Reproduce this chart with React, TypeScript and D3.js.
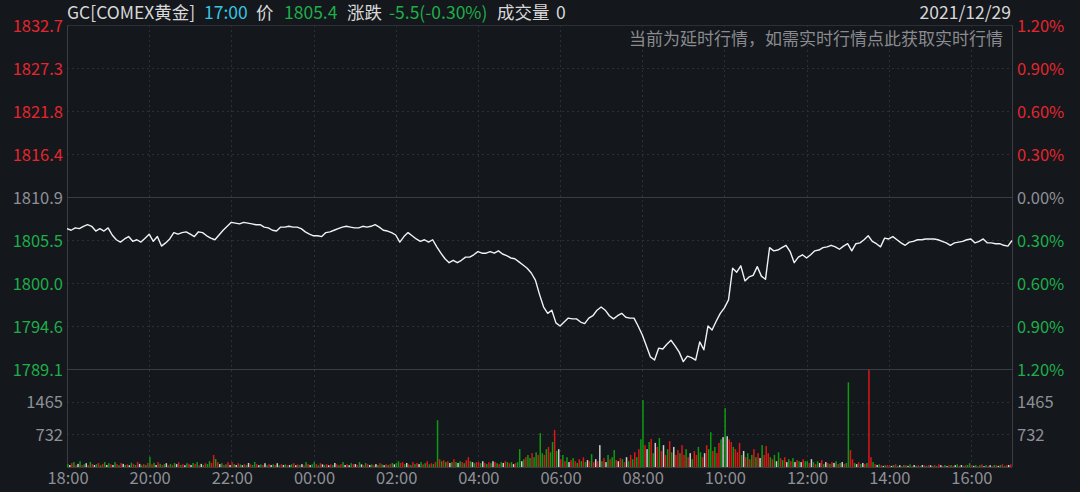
import React from 'react';
import * as d3 from 'd3';

// ---------- data ----------
const prevClose = 1810.9;
const pctTicks = [1.2, 0.9, 0.6, 0.3, 0, -0.3, -0.6, -0.9, -1.2];
const priceLabels = ['1832.7', '1827.3', '1821.8', '1816.4', '1810.9', '1805.5', '1800.0', '1794.6', '1789.1'];
const pctLabels = ['1.20%', '0.90%', '0.60%', '0.30%', '0.00%', '0.30%', '0.60%', '0.90%', '1.20%'];
const timeLabels = ['18:00', '20:00', '22:00', '00:00', '02:00', '04:00', '06:00', '08:00', '10:00', '12:00', '14:00', '16:00'];
const timeTickMinutes = [0, 120, 240, 360, 480, 600, 720, 840, 960, 1080, 1200, 1320];
const sessionMinutes = 1380;
const volTicks = [1465, 732];
const volMax = 2197;

const headerTexts = ['GC[COMEX黄金]', '17:00', '价', '1805.4', '涨跌', '-5.5(-0.30%)', '成交量', '0'];
const headerKinds = ['n', 'c', 'n', 'g', 'n', 'g', 'n', 'n'];
const dateText = '2021/12/29';
const noticeText = '当前为延时行情，如需实时行情点此获取实时行情';

// price every 6 minutes from 18:00
const priceStep = 6;
const prices = [
  1806.9, 1806.7, 1807.0, 1806.9, 1807.2, 1807.4, 1807.2, 1806.6, 1806.9, 1806.6,
  1807.0, 1806.1, 1805.5, 1805.2, 1805.6, 1805.9, 1805.3, 1805.5, 1805.2, 1805.7,
  1806.2, 1805.3, 1805.9, 1804.7, 1805.1, 1805.6, 1806.4, 1806.2, 1806.4, 1806.5,
  1806.2, 1805.9, 1806.5, 1806.4, 1806.0, 1805.7, 1805.5, 1806.1, 1806.7, 1807.2,
  1807.7, 1807.6, 1807.5, 1807.7, 1807.6, 1807.5, 1807.4, 1807.4, 1807.1, 1807.0,
  1806.7, 1806.6, 1807.1, 1807.1, 1807.2, 1807.1, 1807.1, 1806.9, 1806.5, 1806.2,
  1806.0, 1806.0, 1805.9, 1806.4, 1806.5, 1806.7, 1806.9, 1807.1, 1807.2, 1807.1,
  1807.0, 1807.0, 1807.2, 1807.1, 1807.2, 1807.4, 1807.1, 1806.7, 1806.6, 1806.4,
  1806.1, 1805.2, 1805.9, 1806.4, 1806.0, 1805.6, 1805.3, 1805.5, 1805.2, 1805.5,
  1804.6, 1803.8, 1803.1, 1802.6, 1802.9, 1802.6, 1802.9, 1803.3, 1803.3, 1803.6,
  1804.0, 1803.8, 1803.8, 1804.0, 1803.8, 1804.1, 1803.7, 1803.5, 1803.2, 1803.1,
  1802.7, 1802.3, 1801.9, 1801.3, 1800.4, 1798.6, 1797.0, 1796.2, 1796.6, 1795.0,
  1794.6, 1795.1, 1795.6, 1795.5, 1795.5, 1795.1, 1794.9, 1795.6, 1795.9, 1796.6,
  1797.0, 1796.6, 1795.9, 1795.5, 1795.9, 1796.2, 1795.7, 1795.6, 1795.6, 1794.6,
  1793.5, 1792.1, 1790.7, 1790.3, 1791.8, 1791.7, 1792.3, 1792.8, 1792.1, 1791.3,
  1790.1, 1790.8, 1790.6, 1790.3, 1792.6, 1791.6, 1794.6, 1794.1, 1795.2, 1796.2,
  1796.9, 1797.9, 1801.9, 1801.4, 1802.2, 1800.3, 1800.8, 1801.0, 1802.1, 1800.9,
  1800.5, 1804.5, 1804.1, 1804.2, 1804.5, 1804.8, 1804.0, 1802.6, 1803.3, 1803.6,
  1803.2, 1803.6, 1804.1, 1804.2, 1804.5, 1804.6, 1804.8, 1804.6, 1804.3, 1804.7,
  1805.0, 1804.1, 1805.0, 1805.1, 1805.5, 1806.0, 1805.3, 1805.0, 1804.6, 1805.7,
  1805.6, 1805.9, 1805.5, 1805.1, 1804.8, 1805.2, 1805.3, 1805.5, 1805.5, 1805.6,
  1805.6, 1805.6, 1805.5, 1805.3, 1805.1, 1804.8, 1805.1, 1805.2, 1805.3, 1805.5,
  1805.6, 1805.1, 1805.3, 1805.6, 1805.1, 1805.1, 1805.0, 1805.0, 1804.8, 1804.7, 1805.4,
];

// volume every 3 minutes from 18:00
const volStep = 3;
const volumes = [
  65, 45, 90, 110, 40, 70, 130, 45, 60, 85, 40, 115, 70, 45, 65, 90, 40, 70, 110, 45,
  85, 60, 45, 110, 65, 40, 90, 70, 45, 60, 40, 95, 65, 45, 115, 70, 40, 65, 45, 90,
  230, 60, 95, 45, 110, 70, 45, 65, 85, 40, 70, 45, 90, 65, 105, 45, 65, 40, 85, 70,
  45, 90, 65, 110, 40, 70, 45, 85, 65, 130, 90, 270, 180, 110, 65, 85, 45, 60, 110, 45,
  110, 65, 45, 85, 60, 40, 65, 45, 90, 60, 45, 115, 65, 40, 60, 45, 85, 40, 65, 45,
  60, 45, 85, 40, 65, 45, 60, 40, 45, 65, 85, 40, 60, 45, 65, 40, 110, 65, 45, 60,
  110, 65, 40, 85, 60, 45, 65, 40, 60, 45, 90, 60, 40, 65, 110, 45, 65, 40, 85, 65,
  65, 45, 110, 60, 40, 90, 65, 45, 60, 40, 65, 45, 85, 60, 40, 65, 45, 65, 90, 60,
  90, 130, 90, 110, 65, 90, 60, 45, 110, 65, 90, 65, 110, 60, 85, 130, 60, 85, 65, 110,
  1050, 175, 130, 150, 110, 130, 90, 110, 175, 110, 90, 130, 110, 85, 150, 220, 130, 110, 85, 110,
  110, 85, 130, 90, 65, 110, 85, 130, 110, 85, 65, 110, 90, 130, 110, 85, 110, 65, 90, 110,
  400, 130, 175, 220, 270, 200, 310, 220, 330, 270, 760, 310, 270, 400, 450, 330, 560, 830, 360, 400,
  175, 270, 130, 220, 110, 155, 200, 130, 90, 175, 130, 220, 110, 155, 130, 290, 110, 175, 130, 490,
  130, 200, 110, 270, 175, 220, 380, 155, 130, 200, 175, 110, 220, 130, 270, 175, 330, 220, 400, 620,
  1500, 490, 400, 560, 630, 310, 540, 450, 650, 360, 490, 270, 400, 580, 330, 450, 270, 380, 310, 490,
  270, 400, 220, 310, 175, 360, 270, 450, 330, 220, 310, 490, 400, 780, 360, 450, 310, 540, 620, 670,
  1320, 690, 620, 560, 450, 400, 330, 540, 270, 360, 220, 310, 175, 270, 400, 220, 310, 200, 490, 270,
  470, 310, 220, 175, 270, 130, 330, 200, 155, 220, 110, 175, 130, 200, 110, 155, 130, 110, 175, 130,
  130, 90, 175, 110, 65, 130, 90, 155, 65, 110, 90, 65, 110, 90, 130, 65, 90, 110, 65, 90,
  1900, 380, 175, 90, 65, 110, 65, 90, 65, 90, 2180, 220, 110, 65, 45, 60, 40, 25, 40, 45,
  40, 25, 45, 60, 25, 40, 20, 45, 40, 25, 60, 20, 45, 25, 40, 20, 45, 40, 25, 40,
  40, 25, 45, 20, 60, 40, 25, 45, 20, 40, 45, 25, 40, 60, 25, 45, 20, 40, 45, 85,
  40, 25, 45, 20, 40, 60, 20, 45, 25, 40, 20, 45, 40, 25, 45, 60, 20, 40, 45, 60,
];
// r = up, g = down, w = flat
const volDirections = [
  'gwrgrwgrgwrgrwgrgrgw', 'grwgrgrwgrwgrgrwgrgr', 'grgwrgrgwrgrgwrgrwgr', 'wgrgrwgrggrrgrwgrgrw',
  'rgwrgwrgwrggrwgrwgrw', 'grwgrwgrwgrwrgwrgrwg', 'grgrwgrwrgwrgrgwrwgr', 'wrgwrgrwgrwgrgwrgrgw',
  'ggrrgwrgrgrwgrgrgrgr', 'grgrgrwgrgwgrgrrgwgr', 'rgwrgrgwrgrgwrgrgwrg', 'gwgrggrggrggrgrggrgw',
  'rgrgwrgrgrgrgwrgrwrw', 'grwgrggrwrgrwgrgrgrg', 'grwgrgwrgrwrgrgwrrgr', 'rgrwgrrggrwrggrgrrgw',
  'gwrrgrrrgwrgrgrgrwgr', 'rrgrgwgrgrwgrgwrgwrg', 'grwgrgwrgwrgrwgrgwrg', 'grrgwrgwrgrrgrwgrwgr',
  'rwgrgwrgrwgrwgrgwrgr', 'wgrgrwrgwrgrwgrwgrgg', 'rwgrgrwgrwrgrwgrgrwr',
].join('');

// ---------- layout ----------
const W = 1080;
const H = 492;
const L = 67;
const R = 1012;
const priceTop = 25;
const priceBottom = 369;
const volBottom = 467;
const headerX = [67, 204, 256, 284, 347, 389, 497, 556];

const FONT = "'Noto Sans CJK SC','Noto Sans',sans-serif";
const C = {
  bg: '#14171c',
  grid: '#2c2f36',
  axis: '#3a3d44',
  gray: '#8e9096',
  red: '#e4262d',
  green: '#1eae4a',
  white: '#d8d8d8',
  cyan: '#35c6e3',
  notice: '#8a8b8f',
  line: '#f2f2f2',
  volR: '#dd1616',
  volG: '#0e9a12',
  volW: '#cfcfcf',
};

export default function App() {
  const x = d3.scaleLinear().domain([0, sessionMinutes]).range([L, R]);
  const y = d3
    .scaleLinear()
    .domain([prevClose * (1 - 0.012), prevClose * (1 + 0.012)])
    .range([priceBottom, priceTop]);
  const yv = d3.scaleLinear().domain([0, volMax]).range([volBottom, priceBottom]);

  const line = d3
    .line<number>()
    .x((_, i) => x(i * priceStep))
    .y((d) => y(d))
    .curve(d3.curveLinear);

  const tickY = (p: number) => y(prevClose * (1 + p / 100));
  const labelColor = (p: number) => (p > 0 ? C.red : p < 0 ? C.green : C.gray);
  const headerColor: Record<string, string> = { n: C.white, c: C.cyan, g: C.green };
  const volColor: Record<string, string> = { r: C.volR, g: C.volG, w: C.volW };

  const fs = 16.5;

  return (
    <svg
      width={W}
      height={H}
      style={{ position: 'absolute', left: 0, top: 0, display: 'block', background: C.bg }}
      fontFamily={FONT}
    >
      <rect x={0} y={0} width={W} height={H} fill={C.bg} />

      {/* horizontal price grid */}
      {pctTicks.map((p, i) => {
        const yy = Math.round(tickY(p)) + 0.5;
        const solid = p === 0 || i === pctTicks.length - 1 || i === 0;
        return (
          <line
            key={'hg' + i}
            x1={L}
            x2={R}
            y1={yy}
            y2={yy}
            stroke={solid ? (i === 0 ? C.grid : C.axis) : C.grid}
            strokeDasharray={solid ? undefined : '2,3'}
            strokeWidth={1}
          />
        );
      })}
      {/* volume grid */}
      {volTicks.map((v, i) => {
        const yy = Math.round(yv(v)) + 0.5;
        return <line key={'vg' + i} x1={L} x2={R} y1={yy} y2={yy} stroke={C.grid} strokeDasharray="2,3" />;
      })}
      <line x1={L} x2={R} y1={volBottom + 0.5} y2={volBottom + 0.5} stroke={C.axis} />

      {/* vertical grid */}
      {timeTickMinutes.slice(1).map((m, i) => {
        const xx = Math.round(x(m)) + 0.5;
        return (
          <line key={'vgl' + i} x1={xx} x2={xx} y1={priceTop} y2={volBottom} stroke={C.grid} strokeDasharray="2,3" />
        );
      })}
      <line x1={L + 0.5} x2={L + 0.5} y1={priceTop} y2={volBottom} stroke={C.axis} />
      <line x1={R + 0.5} x2={R + 0.5} y1={priceTop} y2={volBottom} stroke={C.axis} />

      {/* volume bars */}
      {volumes.map((v, i) => {
        const xx = x(i * volStep);
        const top = yv(v);
        return (
          <rect
            key={'vb' + i}
            x={xx}
            y={top}
            width={1.5}
            height={Math.max(0.8, volBottom - top)}
            fill={volColor[volDirections[i] || 'w']}
          />
        );
      })}

      {/* price line */}
      <path d={line(prices) || ''} fill="none" stroke={C.line} strokeWidth={1.4} strokeLinejoin="round" />

      {/* left labels */}
      {pctTicks.map((p, i) => (
        <text
          key={'ll' + i}
          x={63}
          y={tickY(p) + 1}
          dy="0.35em"
          textAnchor="end"
          fontSize={fs}
          fill={labelColor(p)}
        >
          {priceLabels[i]}
        </text>
      ))}
      {/* right labels */}
      {pctTicks.map((p, i) => (
        <text key={'rl' + i} x={1017} y={tickY(p) + 1} dy="0.35em" fontSize={fs} fill={labelColor(p)}>
          {pctLabels[i]}
        </text>
      ))}
      {/* volume labels */}
      {volTicks.map((v, i) => (
        <g key={'vl' + i}>
          <text x={63} y={yv(v) + 1} dy="0.35em" textAnchor="end" fontSize={fs} fill={C.gray}>
            {v}
          </text>
          <text x={1017} y={yv(v) + 1} dy="0.35em" fontSize={fs} fill={C.gray}>
            {v}
          </text>
        </g>
      ))}
      {/* time labels */}
      {timeTickMinutes.map((m, i) => (
        <text key={'tl' + i} x={x(m) + 1} y={478} dy="0.35em" textAnchor="middle" fontSize={fs} fill={C.gray}>
          {timeLabels[i]}
        </text>
      ))}

      {/* header */}
      {headerTexts.map((t, i) => (
        <text key={'h' + i} x={headerX[i]} y={18.5} fontSize={17.5} fill={headerColor[headerKinds[i]]}>
          {t}
        </text>
      ))}
      <text x={1011} y={18.5} textAnchor="end" fontSize={17.5} fill={C.white}>
        {dateText}
      </text>
      <text x={1003} y={44.5} textAnchor="end" fontSize={17} fill={C.notice}>
        {noticeText}
      </text>
    </svg>
  );
}
